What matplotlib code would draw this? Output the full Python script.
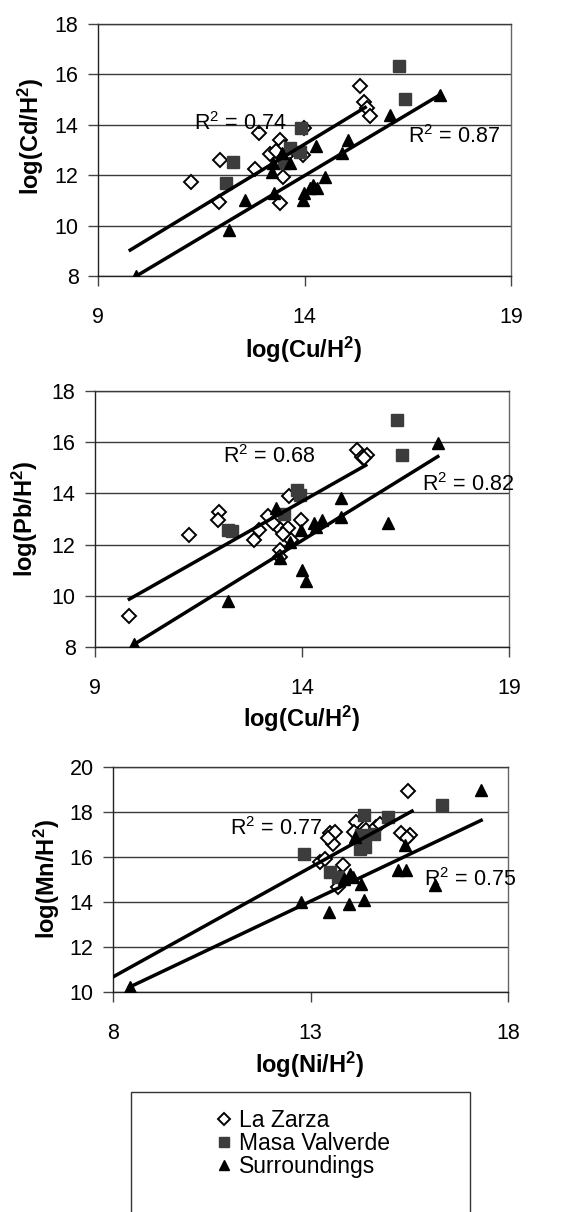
import matplotlib
matplotlib.use("Agg")
import matplotlib.pyplot as plt
from matplotlib.patches import Rectangle

plt.rcParams['font.family'] = ['Liberation Sans', 'DejaVu Sans']
plt.rcParams['mathtext.default'] = 'regular'

W, H = 567, 1212

# ---------------- data ----------------
# Panel 1: log(Cd/H2) vs log(Cu/H2)
p1_zarza_x = [11.24, 11.95, 11.94, 12.81, 12.91, 13.16, 13.40, 13.40, 13.48, 13.50, 13.30, 13.98, 13.96, 13.55, 15.35, 15.43, 15.51, 15.59]
p1_zarza_y = [11.74, 12.60, 10.95, 12.23, 13.69, 12.84, 13.40, 10.91, 11.94, 13.13, 12.95, 13.86, 12.80, 12.75, 15.54, 14.92, 14.65, 14.35]
p1_masa_x = [12.26, 12.11, 13.92, 13.90, 13.50, 13.66, 16.28, 16.43]
p1_masa_y = [12.51, 11.68, 13.88, 12.93, 12.50, 13.07, 16.33, 15.04]
p1_surr_x = [9.93, 12.16, 12.57, 13.25, 13.21, 13.24, 13.66, 13.96, 13.98, 14.14, 14.20, 14.30, 14.50, 14.29, 14.91, 15.05, 16.08, 17.27, 13.45]
p1_surr_y = [8.00, 9.83, 11.02, 11.28, 12.14, 12.47, 12.47, 11.00, 11.28, 11.48, 11.60, 11.48, 11.94, 13.16, 12.87, 13.40, 14.39, 15.18, 12.90]
p1_fit_zarza_x = [9.78, 15.47]
p1_fit_zarza_y = [9.03, 14.69]
p1_fit_surr_x = [9.93, 17.27]
p1_fit_surr_y = [8.00, 15.18]
p1_r2_labels = ["R$^2$ = 0.74", "R$^2$ = 0.87"]
p1_r2_x = [12.45, 17.63]
p1_r2_y = [14.06, 13.53]

# Panel 2: log(Pb/H2) vs log(Cu/H2)
p2_zarza_x = [9.83, 11.26, 12.00, 11.97, 12.83, 12.97, 13.17, 13.41, 13.47, 13.47, 13.65, 13.73, 13.69, 13.97, 13.30, 13.55, 15.34, 15.46, 15.58, 15.50]
p2_zarza_y = [9.22, 12.38, 13.29, 12.96, 12.18, 12.57, 13.10, 12.70, 11.80, 11.53, 12.64, 12.18, 13.88, 12.96, 12.85, 12.40, 15.70, 15.44, 15.50, 15.37]
p2_masa_x = [12.21, 12.30, 13.57, 13.89, 13.95, 16.30, 16.42]
p2_masa_y = [12.57, 12.55, 13.20, 14.14, 13.95, 16.87, 15.50]
p2_surr_x = [9.95, 12.21, 13.37, 13.47, 13.97, 14.00, 14.09, 14.29, 14.49, 14.33, 14.93, 14.93, 16.08, 17.28, 13.70]
p2_surr_y = [8.10, 9.78, 13.42, 11.47, 12.57, 11.01, 10.56, 12.83, 12.96, 12.70, 13.81, 13.07, 12.83, 15.96, 12.10]
p2_fit_zarza_x = [9.83, 15.54]
p2_fit_zarza_y = [9.87, 15.10]
p2_fit_surr_x = [9.94, 17.28]
p2_fit_surr_y = [8.10, 15.44]
p2_r2_labels = ["R$^2$ = 0.68", "R$^2$ = 0.82"]
p2_r2_x = [13.21, 18.02]
p2_r2_y = [15.44, 14.33]

# Panel 3: log(Mn/H2) vs log(Ni/H2)
p3_zarza_x = [15.47, 15.30, 15.51, 13.49, 13.61, 13.57, 13.23, 13.36, 13.82, 13.74, 13.70, 14.16, 14.20, 14.41, 14.67, 14.75, 13.45, 15.45, 14.10]
p3_zarza_y = [18.93, 17.07, 16.96, 17.08, 17.11, 16.59, 15.78, 15.93, 15.63, 15.11, 14.67, 17.56, 16.96, 17.19, 17.33, 17.48, 16.85, 16.85, 17.10]
p3_masa_x = [12.83, 13.49, 14.35, 14.29, 14.25, 14.37, 14.96, 14.62, 16.34, 13.70]
p3_masa_y = [16.15, 15.33, 17.88, 16.96, 16.37, 16.44, 17.78, 17.04, 18.30, 15.10]
p3_surr_x = [8.42, 12.77, 13.47, 13.97, 14.35, 14.29, 14.00, 13.86, 14.08, 15.22, 15.43, 15.38, 16.14, 17.32, 14.12]
p3_surr_y = [10.22, 14.00, 13.56, 13.93, 14.07, 14.81, 15.26, 15.04, 15.11, 15.41, 15.41, 16.52, 14.74, 18.96, 16.89]
p3_fit_zarza_x = [8.00, 15.57]
p3_fit_zarza_y = [10.67, 18.04]
p3_fit_surr_x = [8.42, 17.32]
p3_fit_surr_y = [10.22, 17.63]
p3_r2_labels = ["R$^2$ = 0.77", "R$^2$ = 0.75"]
p3_r2_x = [12.13, 17.03]
p3_r2_y = [17.26, 14.99]

series_names = ["La Zarza", "Masa Valverde", "Surroundings"]

panel1_xticks = [9, 14, 19]
panel1_yticks = [8, 10, 12, 14, 16, 18]
panel3_xticks = [8, 13, 18]
panel3_yticks = [10, 12, 14, 16, 18, 20]

# ---------------- figure ----------------
fig = plt.figure(figsize=(W / 100, H / 100), dpi=100)


def px_axes(L, R, T, B):
    return fig.add_axes([L / W, 1 - B / H, (R - L) / W, (B - T) / H])


def draw_panel(ax, zx, zy, mx, my, sx, sy, fzx, fzy, fsx, fsy, r2l, r2x, r2y,
               xticks, yticks):
    ax.set_xlim(xticks[0], xticks[-1])
    ax.set_ylim(yticks[0], yticks[-1])
    ax.set_xticks(xticks)
    ax.set_yticks(yticks)
    ax.yaxis.grid(True, color='#3a3a3a', linewidth=1.0)
    ax.set_axisbelow(True)
    for s in ['left', 'bottom']:
        ax.spines[s].set_color('#222222')
        ax.spines[s].set_linewidth(1.0)
    ax.spines['top'].set_color('#3a3a3a')
    ax.spines['right'].set_color('#666666')
    ax.spines['top'].set_linewidth(1.0)
    ax.spines['right'].set_linewidth(1.0)
    ax.tick_params(axis='x', direction='out', length=7, width=1, pad=15,
                   labelsize=15.5, color='#444444')
    ax.tick_params(axis='y', direction='out', length=7, width=1, pad=7,
                   labelsize=15.5, color='#444444')
    h1 = ax.plot(zx, zy, linestyle='none', marker='D', markersize=7.4,
                 markerfacecolor='white', markeredgecolor='black',
                 markeredgewidth=1.4, label=series_names[0], zorder=3)[0]
    h2 = ax.plot(mx, my, linestyle='none', marker='s', markersize=8.7,
                 markerfacecolor='#3c3c3c', markeredgecolor='#3c3c3c',
                 label=series_names[1], zorder=3)[0]
    h3 = ax.plot(sx, sy, linestyle='none', marker='^', markersize=8.7,
                 markerfacecolor='black', markeredgecolor='black',
                 label=series_names[2], zorder=3)[0]
    ax.plot(fzx, fzy, color='black', linewidth=2.5, zorder=4)
    ax.plot(fsx, fsy, color='black', linewidth=2.5, zorder=4)
    for t, x, y in zip(r2l, r2x, r2y):
        ax.text(x, y, t, fontsize=15.5, ha='center', va='center', zorder=5,
                clip_on=False)
    return [h1, h2, h3]


ax1 = px_axes(98, 511, 24, 276)
handles = draw_panel(ax1, p1_zarza_x, p1_zarza_y, p1_masa_x, p1_masa_y,
                     p1_surr_x, p1_surr_y, p1_fit_zarza_x, p1_fit_zarza_y,
                     p1_fit_surr_x, p1_fit_surr_y, p1_r2_labels, p1_r2_x,
                     p1_r2_y, panel1_xticks, panel1_yticks)

ax2 = px_axes(95, 509, 391, 647)
draw_panel(ax2, p2_zarza_x, p2_zarza_y, p2_masa_x, p2_masa_y,
           p2_surr_x, p2_surr_y, p2_fit_zarza_x, p2_fit_zarza_y,
           p2_fit_surr_x, p2_fit_surr_y, p2_r2_labels, p2_r2_x,
           p2_r2_y, panel1_xticks, panel1_yticks)

ax3 = px_axes(113, 508, 767, 992)
draw_panel(ax3, p3_zarza_x, p3_zarza_y, p3_masa_x, p3_masa_y,
           p3_surr_x, p3_surr_y, p3_fit_zarza_x, p3_fit_zarza_y,
           p3_fit_surr_x, p3_fit_surr_y, p3_r2_labels, p3_r2_x,
           p3_r2_y, panel3_xticks, panel3_yticks)


def ftext(x, y, s, **kw):
    fig.text(x / W, 1 - y / H, s, ha='center', va='center',
             fontsize=17, fontweight='bold', **kw)


ftext(304, 350, "log(Cu/H$^2$)")
ftext(302, 719, "log(Cu/H$^2$)")
ftext(310, 1065, "log(Ni/H$^2$)")
ftext(31, 136, "log(Cd/H$^2$)", rotation=90)
ftext(25, 519, "log(Pb/H$^2$)", rotation=90)
ftext(47, 879, "log(Mn/H$^2$)", rotation=90)

# legend box (extends past the bottom edge like the reference)
fig.patches.append(Rectangle((131 / W, -0.05), (470 - 131) / W,
                             1 - 1092 / H + 0.05, transform=fig.transFigure,
                             facecolor='white', edgecolor='#333333',
                             linewidth=1.0))
leg = fig.legend(handles=handles, labels=series_names, loc='upper left',
                 bbox_to_anchor=(206 / W, 1 - 1098 / H), frameon=False,
                 fontsize=16.5, handlelength=0.6, handletextpad=0.35,
                 labelspacing=0.0, borderpad=0, markerscale=0.85)

fig.savefig("out.png", dpi=100)
